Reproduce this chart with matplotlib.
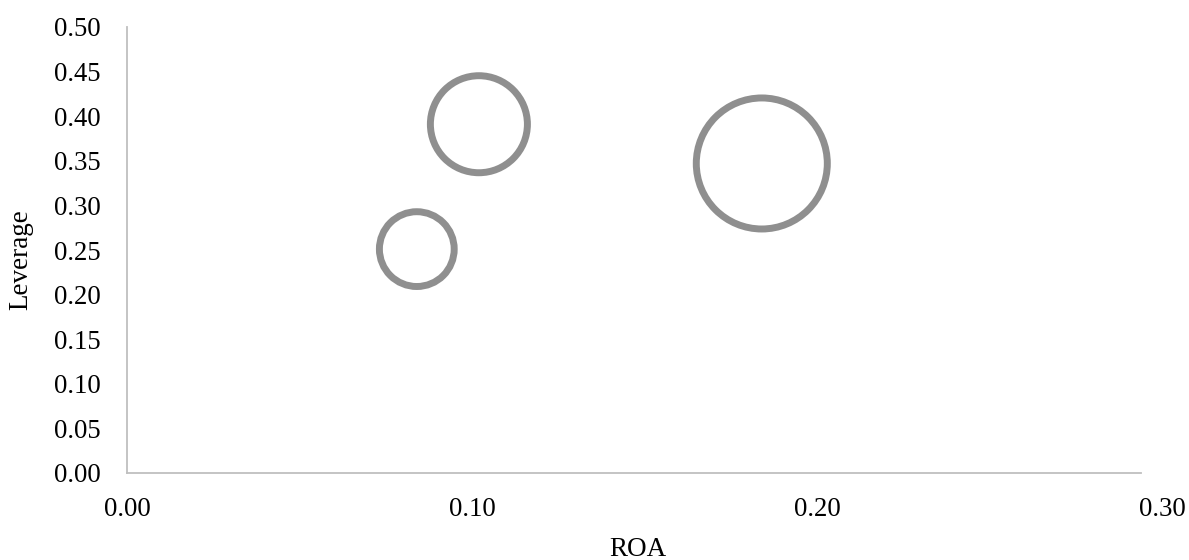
import matplotlib
matplotlib.use("Agg")
import matplotlib.pyplot as plt
import numpy as np

roa = [0.084, 0.102, 0.184]
leverage = [0.251, 0.391, 0.347]
bubble_size = [2900, 4880, 8900]  # relative bubble areas

x_ticks = [0.00, 0.10, 0.20, 0.30]
x_tick_labels = ["0.00", "0.10", "0.20", "0.30"]
y_ticks = [0.00, 0.05, 0.10, 0.15, 0.20, 0.25, 0.30, 0.35, 0.40, 0.45, 0.50]
y_tick_labels = ["%.2f" % v for v in y_ticks]

plt.rcParams['font.family'] = ['Liberation Serif', 'DejaVu Serif']

fig = plt.figure(figsize=(11.89, 5.6), dpi=100)
ax = fig.add_axes([127/1189, 1 - 473/560, (1162 - 127)/1189, (473 - 27)/560])

ax.scatter(roa, leverage, s=bubble_size, facecolors='none', edgecolors='#8f8f8f',
           linewidths=5.0, clip_on=False, zorder=3)

ax.set_xlim(0, 0.30)
ax.set_ylim(0, 0.50)
ax.set_xticks(x_ticks)
ax.set_xticklabels(x_tick_labels)
ax.set_yticks(y_ticks)
ax.set_yticklabels(y_tick_labels)
ax.tick_params(axis='both', length=0, labelsize=19.3, colors='black')
ax.tick_params(axis='y', pad=19)
ax.tick_params(axis='x', pad=17)

for s in ['top', 'right']:
    ax.spines[s].set_visible(False)
for s in ['left', 'bottom']:
    ax.spines[s].set_color('#bfbfbf')
    ax.spines[s].set_linewidth(1.3)
ax.spines['bottom'].set_bounds(0, 0.294)

ax.set_xlabel("ROA", fontsize=19.5)
ax.set_ylabel("Leverage", fontsize=19.5)
ax.xaxis.set_label_coords(0.494, -0.143)
ax.yaxis.set_label_coords(-0.0908, 0.478)

fig.savefig("out.png", dpi=100)
